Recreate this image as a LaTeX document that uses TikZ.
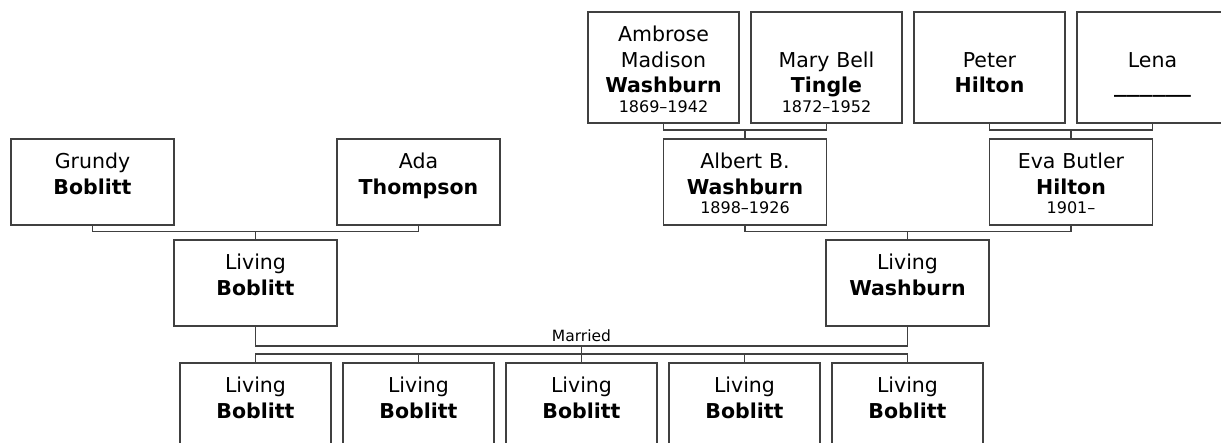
\documentclass[tikz,border=0pt]{standalone}
\usepackage{fontspec}
\usepackage{graphicx}
\setmainfont{DejaVu Sans}
\definecolor{linegray}{HTML}{404040}
\begin{document}
\begin{tikzpicture}[x=1pt,y=-1pt,
  person/.style={draw=linegray, line width=1.8pt, fill=white, inner sep=0pt,
    text width=#1, align=center, text height=30pt, text depth=56pt,
    font=\fontsize{20.5}{25.5}\selectfont},
  person/.default=163pt,
  tall/.style={text height=30pt, text depth=81pt},
  conn/.style={draw=linegray, line width=1.8pt},
  note/.style={font=\fontsize{15.5}{18}\selectfont, inner sep=1pt}]
\newcommand{\yrs}[1]{\\[-6pt]{\fontsize{16}{18}\selectfont #1}}
\useasboundingbox (0,0) rectangle (1221,442);
\clip (0,0) rectangle (1221,442);
% top row
\node[person=151pt, tall, anchor=north] (amb) at (663.5,11) {Ambrose\\Madison\\\textbf{Washburn}\yrs{1869–1942}};
\node[person=151pt, tall, anchor=north] (mary) at (826.5,11) {\\Mary Bell\\\textbf{Tingle}\yrs{1872–1952}};
\node[person=151pt, tall, anchor=north] (peter) at (989.5,11) {\\Peter\\\textbf{Hilton}};
\node[person=151pt, tall, anchor=north] (lena) at (1152.5,11) {\\Lena\\\textbf{\scalebox{1.25}[1]{\_\_\_\_\_\_}}};
% second row
\node[person, anchor=north] (grundy) at (92.5,138) {Grundy\\\textbf{Boblitt}};
\node[person, anchor=north] (ada) at (418.5,138) {Ada\\\textbf{Thompson}};
\node[person, anchor=north] (albert) at (745,138) {Albert B.\\\textbf{Washburn}\yrs{1898–1926}};
\node[person, anchor=north] (eva) at (1071,138) {Eva Butler\\\textbf{Hilton}\yrs{1901–}};
% third row
\node[person, anchor=north] (livb) at (255.5,239) {Living\\\textbf{Boblitt}};
\node[person, anchor=north] (livw) at (907.5,239) {Living\\\textbf{Washburn}};
% children
\foreach \i/\x in {1/255.5,2/418.5,3/581.5,4/744.5,5/907.5}{
  \node[person=151pt, anchor=north] (c\i) at (\x,362) {Living\\\textbf{Boblitt}};
}
% connectors top
\coordinate (b1) at (745,130);
\coordinate (b2) at (1071,130);
\draw[conn] (amb.south) |- (b1) -| (mary.south);
\draw[conn] (b1) -- (albert.north);
\draw[conn] (peter.south) |- (b2) -| (lena.south);
\draw[conn] (b2) -- (eva.north);
% connectors second
\coordinate (b3) at (255.5,231.5);
\coordinate (b4) at (907.5,231.5);
\draw[conn] (grundy.south) |- (b3) -| (ada.south);
\draw[conn] (b3) -- (livb.north);
\draw[conn] (albert.south) |- (b4) -| (eva.south);
\draw[conn] (b4) -- (livw.north);
% marriage
\coordinate (m) at (581.5,346);
\coordinate (cb) at (581.5,354);
\draw[conn] (livb.south) |- (m) -| (livw.south);
\node[note, anchor=base] (mlabel) at (581.5,341.5) {Married};
\draw[conn] (m) -- (cb);
\draw[conn] (c1.north) |- (cb) -| (c5.north);
\foreach \i in {2,3,4}{
  \draw[conn] (c\i.north) -- (c\i.north |- cb);
}
\end{tikzpicture}
\end{document}
